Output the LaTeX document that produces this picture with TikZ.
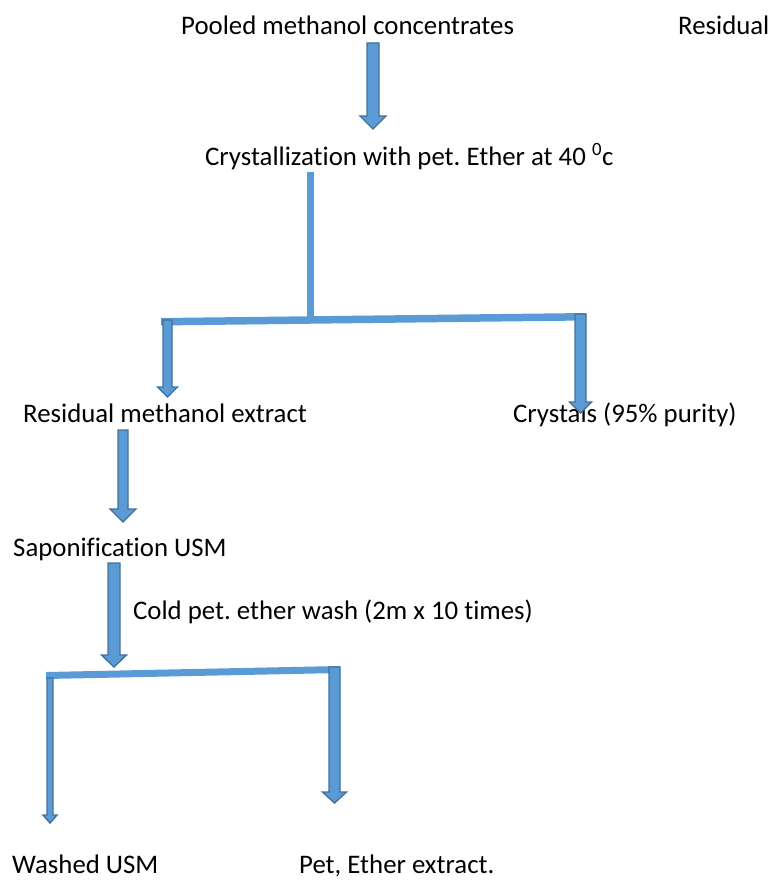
\documentclass[tikz,border=0pt]{standalone}
\usepackage{fontspec}
\setmainfont[Ligatures=NoCommon]{Carlito}
\frenchspacing
\definecolor{afill}{HTML}{5B9BD5}
\definecolor{aline}{HTML}{41719C}
\tikzset{
  lbl/.style={anchor=base west,inner sep=0pt,font=\fontsize{26.8}{32}\selectfont},
  blk/.style={fill=afill,draw=aline,line width=1.4pt,line join=miter},
  barfill/.style={fill=afill}
}
% \barrow{x}{ytop}{ytip}{shaft half}{head half}{head length}
\newcommand\barrow[6]{%
  \path[blk] (#1-#4,#2) -- (#1+#4,#2) -- (#1+#4,#3-#6) -- (#1+#5,#3-#6) -- (#1,#3)
    -- (#1-#5,#3-#6) -- (#1-#4,#3-#6) -- cycle;}
\begin{document}
\begin{tikzpicture}[x=1pt,y=-1pt]
\useasboundingbox (0,0) rectangle (771,880);
% texts
\node[lbl] (pooled) at (181,35) {Pooled methanol concentrates};
\node[lbl] (resid) at (678,35) {Residual};
\node[lbl] (cryst) at (205,165) {Crystallization with pet. Ether at 40 \textsuperscript{0}c};
\node[lbl] (rme) at (23,422) {Residual methanol extract};
\node[lbl] (crys95) at (513,422) {Crystals (95\% purity)};
\node[lbl] (sapon) at (13,556) {Saponification USM};
\node[lbl] (cold) at (133,619) {Cold pet. ether wash (2m x 10 times)};
\node[lbl] (washed) at (12,873) {Washed USM};
\node[lbl] (petex) at (299,873) {Pet, Ether extract.};
% bars
\path[barfill] (306.5,172) rectangle (313.5,320);
\path[barfill] (161,318) -- (586,313) -- (586,320.5) -- (161,325.5) -- cycle;
\path[barfill] (46,672) -- (340,666) -- (340,673) -- (46,679) -- cycle;
% arrows
\barrow{373}{43}{129}{6}{13}{13}
\barrow{167.5}{320}{397}{4.5}{10}{10}
\barrow{580.5}{314}{413}{5.5}{11}{11}
\barrow{123}{430}{522}{5}{13}{13}
\barrow{114}{563}{667}{6}{12.5}{12}
\barrow{50}{678}{823}{3}{7}{8}
\barrow{334.5}{667}{803}{5.5}{12}{11}
\end{tikzpicture}
\end{document}
